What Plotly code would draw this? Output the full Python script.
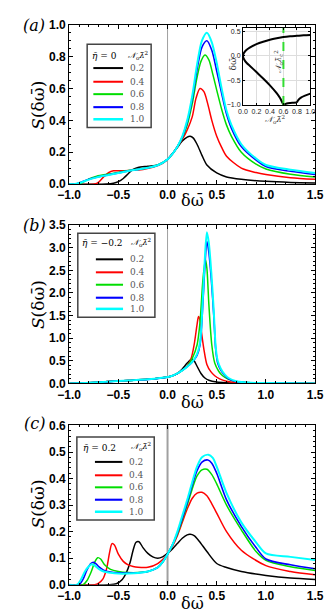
import plotly.graph_objects as go

W, H = 332, 616

# ---------------- data ----------------
COUPLINGS = ["0.2", "0.4", "0.6", "0.8", "1.0"]
COLORS = ["#000000", "#ff0000", "#00dd00", "#0000ff", "#00ffff"]
WIDTHS = [1.5, 1.5, 1.5, 1.6, 2.0]
ETA_LABELS = ["0", "−0.2", "0.2"]

# panel (a): eta = 0
A_X_02 = [-1.0, -0.62, -0.55, -0.5, -0.45, -0.4, -0.35, -0.3, -0.2, -0.1, -0.05, 0.0, 0.05, 0.1, 0.15, 0.2, 0.23, 0.26, 0.3, 0.35, 0.4, 0.5, 0.6, 0.75, 1.0, 1.25, 1.5]
A_Y_02 = [0.0, 0.0, 0.005, 0.015, 0.035, 0.065, 0.092, 0.104, 0.112, 0.12, 0.135, 0.155, 0.19, 0.23, 0.27, 0.295, 0.30, 0.29, 0.25, 0.18, 0.12, 0.07, 0.045, 0.03, 0.017, 0.01, 0.007]
A_X_04 = [-1.0, -0.74, -0.7, -0.65, -0.6, -0.55, -0.45, -0.35, -0.25, -0.15, -0.05, 0.0, 0.05, 0.1, 0.15, 0.2, 0.25, 0.29, 0.33, 0.37, 0.41, 0.45, 0.5, 0.55, 0.6, 0.75, 0.9, 1.0, 1.25, 1.5]
A_Y_04 = [0.0, 0.0, 0.012, 0.045, 0.072, 0.083, 0.084, 0.086, 0.092, 0.105, 0.13, 0.155, 0.19, 0.235, 0.28, 0.34, 0.42, 0.54, 0.60, 0.58, 0.5, 0.4, 0.3, 0.23, 0.175, 0.1, 0.072, 0.06, 0.04, 0.03]
A_X_06 = [-1.0, -0.9, -0.85, -0.8, -0.72, -0.6, -0.5, -0.4, -0.3, -0.2, -0.1, 0.0, 0.05, 0.1, 0.15, 0.2, 0.25, 0.3, 0.34, 0.38, 0.42, 0.46, 0.5, 0.55, 0.6, 0.65, 0.75, 0.9, 1.0, 1.25, 1.5]
A_Y_06 = [0.0, 0.0, 0.015, 0.032, 0.05, 0.063, 0.073, 0.085, 0.093, 0.103, 0.12, 0.155, 0.19, 0.235, 0.29, 0.37, 0.5, 0.67, 0.77, 0.81, 0.78, 0.69, 0.59, 0.47, 0.37, 0.3, 0.2, 0.125, 0.095, 0.062, 0.045]
A_X_08 = [-1.0, -0.94, -0.88, -0.8, -0.72, -0.6, -0.5, -0.4, -0.3, -0.2, -0.1, 0.0, 0.05, 0.1, 0.15, 0.2, 0.25, 0.3, 0.35, 0.4, 0.45, 0.5, 0.55, 0.6, 0.65, 0.75, 0.9, 1.0, 1.25, 1.5]
A_Y_08 = [0.0, 0.0, 0.012, 0.03, 0.043, 0.058, 0.07, 0.083, 0.092, 0.102, 0.118, 0.155, 0.19, 0.235, 0.295, 0.39, 0.53, 0.72, 0.86, 0.90, 0.84, 0.71, 0.57, 0.44, 0.35, 0.235, 0.15, 0.11, 0.08, 0.06]
A_X_10 = [-1.0, -0.94, -0.88, -0.8, -0.72, -0.6, -0.5, -0.4, -0.3, -0.2, -0.1, 0.0, 0.05, 0.1, 0.15, 0.2, 0.25, 0.3, 0.35, 0.4, 0.45, 0.5, 0.55, 0.6, 0.65, 0.75, 0.9, 1.0, 1.25, 1.5]
A_Y_10 = [0.0, 0.0, 0.01, 0.028, 0.042, 0.057, 0.069, 0.082, 0.092, 0.102, 0.118, 0.155, 0.19, 0.235, 0.3, 0.40, 0.55, 0.75, 0.9, 0.95, 0.89, 0.76, 0.6, 0.46, 0.37, 0.25, 0.16, 0.12, 0.09, 0.07]

# panel (b): eta = -0.2
B_X_02 = [-1.0, -0.8, -0.6, -0.4, -0.2, 0.0, 0.05, 0.1, 0.15, 0.2, 0.245, 0.27, 0.3, 0.34, 0.38, 0.42, 0.5, 0.6, 0.8, 1.0, 1.5]
B_Y_02 = [0.0, 0.015, 0.04, 0.065, 0.09, 0.14, 0.17, 0.22, 0.32, 0.45, 0.54, 0.5, 0.38, 0.22, 0.12, 0.07, 0.03, 0.015, 0.005, 0.003, 0.0]
B_X_04 = [-1.0, -0.8, -0.6, -0.4, -0.2, 0.0, 0.05, 0.1, 0.15, 0.2, 0.24, 0.27, 0.3, 0.315, 0.33, 0.35, 0.37, 0.4, 0.44, 0.48, 0.53, 0.6, 0.7, 0.85, 1.0, 1.5]
B_Y_04 = [0.0, 0.015, 0.04, 0.065, 0.09, 0.14, 0.17, 0.22, 0.29, 0.38, 0.55, 0.85, 1.3, 1.48, 1.4, 1.05, 0.75, 0.42, 0.26, 0.17, 0.1, 0.05, 0.02, 0.008, 0.004, 0.0]
B_X_06 = [-1.0, -0.8, -0.6, -0.4, -0.2, 0.0, 0.05, 0.1, 0.15, 0.2, 0.25, 0.3, 0.33, 0.36, 0.385, 0.4, 0.42, 0.45, 0.48, 0.52, 0.56, 0.62, 0.7, 0.85, 1.0, 1.5]
B_Y_06 = [0.0, 0.015, 0.04, 0.065, 0.09, 0.14, 0.17, 0.22, 0.29, 0.38, 0.55, 0.85, 1.35, 2.3, 2.74, 2.55, 1.75, 0.85, 0.45, 0.27, 0.17, 0.09, 0.04, 0.015, 0.008, 0.0]
B_X_08 = [-1.0, -0.8, -0.6, -0.4, -0.2, 0.0, 0.05, 0.1, 0.15, 0.2, 0.25, 0.3, 0.33, 0.36, 0.38, 0.4, 0.42, 0.445, 0.47, 0.49, 0.51, 0.54, 0.58, 0.62, 0.7, 0.85, 1.0, 1.5]
B_Y_08 = [0.0, 0.015, 0.04, 0.065, 0.09, 0.14, 0.17, 0.22, 0.29, 0.37, 0.47, 0.62, 0.85, 1.8, 2.6, 3.14, 2.9, 2.3, 1.5, 0.75, 0.45, 0.3, 0.18, 0.1, 0.04, 0.012, 0.006, 0.0]
B_X_10 = [-1.0, -0.8, -0.6, -0.4, -0.2, 0.0, 0.05, 0.1, 0.15, 0.2, 0.25, 0.3, 0.33, 0.36, 0.376, 0.4, 0.42, 0.445, 0.47, 0.49, 0.51, 0.54, 0.58, 0.62, 0.7, 0.85, 1.0, 1.5]
B_Y_10 = [0.0, 0.015, 0.04, 0.065, 0.09, 0.14, 0.17, 0.22, 0.29, 0.37, 0.47, 0.65, 0.9, 1.92, 2.63, 3.34, 3.1, 2.45, 1.6, 0.8, 0.5, 0.33, 0.2, 0.12, 0.05, 0.015, 0.007, 0.0]

# panel (c): eta = 0.2
C_X_02 = [-1.0, -0.6, -0.52, -0.46, -0.42, -0.38, -0.35, -0.32, -0.29, -0.25, -0.2, -0.15, -0.1, -0.05, 0.0, 0.05, 0.1, 0.15, 0.2, 0.23, 0.27, 0.32, 0.4, 0.5, 0.6, 0.75, 1.0, 1.25, 1.5]
C_Y_02 = [0.0, 0.0, 0.004, 0.02, 0.045, 0.085, 0.13, 0.16, 0.162, 0.14, 0.118, 0.105, 0.1, 0.105, 0.118, 0.135, 0.155, 0.175, 0.188, 0.19, 0.185, 0.165, 0.125, 0.08, 0.065, 0.05, 0.035, 0.025, 0.02]
C_X_04 = [-1.0, -0.74, -0.7, -0.66, -0.62, -0.59, -0.565, -0.54, -0.5, -0.45, -0.4, -0.35, -0.3, -0.2, -0.1, 0.0, 0.05, 0.1, 0.15, 0.2, 0.25, 0.3, 0.35, 0.4, 0.45, 0.5, 0.6, 0.75, 1.0, 1.25, 1.5]
C_Y_04 = [0.0, 0.0, 0.006, 0.02, 0.06, 0.12, 0.155, 0.15, 0.115, 0.088, 0.075, 0.069, 0.066, 0.066, 0.08, 0.115, 0.145, 0.185, 0.235, 0.285, 0.325, 0.345, 0.348, 0.335, 0.305, 0.27, 0.2, 0.13, 0.072, 0.05, 0.038]
C_X_06 = [-1.0, -0.86, -0.82, -0.78, -0.74, -0.71, -0.68, -0.64, -0.58, -0.5, -0.4, -0.3, -0.2, -0.1, -0.05, 0.0, 0.05, 0.1, 0.15, 0.2, 0.25, 0.3, 0.35, 0.4, 0.45, 0.5, 0.6, 0.75, 0.9, 1.0, 1.25, 1.5]
C_Y_06 = [0.0, 0.0, 0.015, 0.045, 0.085, 0.102, 0.097, 0.075, 0.058, 0.05, 0.046, 0.046, 0.05, 0.065, 0.085, 0.115, 0.15, 0.19, 0.245, 0.3, 0.36, 0.41, 0.433, 0.435, 0.415, 0.38, 0.3, 0.207, 0.125, 0.092, 0.068, 0.054]
C_X_08 = [-1.0, -0.9, -0.86, -0.82, -0.78, -0.755, -0.73, -0.7, -0.65, -0.58, -0.5, -0.4, -0.3, -0.2, -0.1, -0.05, 0.0, 0.05, 0.1, 0.15, 0.2, 0.25, 0.3, 0.35, 0.41, 0.45, 0.5, 0.6, 0.75, 0.9, 1.0, 1.25, 1.5]
C_Y_08 = [0.0, 0.0, 0.02, 0.055, 0.08, 0.085, 0.08, 0.068, 0.055, 0.048, 0.045, 0.044, 0.045, 0.05, 0.065, 0.085, 0.115, 0.15, 0.195, 0.25, 0.31, 0.375, 0.43, 0.462, 0.47, 0.458, 0.42, 0.32, 0.22, 0.14, 0.097, 0.075, 0.06]
C_X_10 = [-1.0, -0.92, -0.88, -0.84, -0.8, -0.77, -0.74, -0.7, -0.65, -0.58, -0.5, -0.4, -0.3, -0.2, -0.1, -0.05, 0.0, 0.05, 0.1, 0.15, 0.2, 0.25, 0.3, 0.35, 0.415, 0.46, 0.5, 0.6, 0.75, 0.9, 1.0, 1.25, 1.5]
C_Y_10 = [0.0, 0.0, 0.02, 0.05, 0.07, 0.077, 0.072, 0.06, 0.05, 0.045, 0.042, 0.042, 0.044, 0.05, 0.065, 0.085, 0.115, 0.15, 0.2, 0.26, 0.32, 0.385, 0.445, 0.48, 0.49, 0.478, 0.445, 0.345, 0.235, 0.16, 0.118, 0.105, 0.093]

# inset: branches of delta omega vs coupling
INSET_UP_X = [0.0, 0.01, 0.03, 0.06, 0.1, 0.2, 0.3, 0.4, 0.5, 0.6, 0.7, 0.8, 0.9, 1.0]
INSET_UP_Y = [0.0, 0.05, 0.09, 0.13, 0.17, 0.24, 0.29, 0.33, 0.36, 0.385, 0.40, 0.41, 0.42, 0.425]
INSET_LO_X = [0.0, 0.01, 0.03, 0.06, 0.1, 0.2, 0.3, 0.4, 0.5, 0.55, 0.6]
INSET_LO_Y = [0.0, -0.05, -0.1, -0.15, -0.2, -0.33, -0.46, -0.6, -0.76, -0.86, -1.0]
INSET_BOT_X = [0.6, 0.65, 0.7, 0.75, 0.8]
INSET_BOT_Y = [-0.995, -0.97, -0.96, -0.955, -0.95]
INSET_R_X = [0.8, 0.82, 0.86, 0.92, 1.0]
INSET_R_Y = [-0.95, -0.9, -0.85, -0.81, -0.77]
CRITICAL_COUPLING = 0.6

PANEL_DATA = [
    [(A_X_02, A_Y_02), (A_X_04, A_Y_04), (A_X_06, A_Y_06), (A_X_08, A_Y_08), (A_X_10, A_Y_10)],
    [(B_X_02, B_Y_02), (B_X_04, B_Y_04), (B_X_06, B_Y_06), (B_X_08, B_Y_08), (B_X_10, B_Y_10)],
    [(C_X_02, C_Y_02), (C_X_04, C_Y_04), (C_X_06, C_Y_06), (C_X_08, C_Y_08), (C_X_10, C_Y_10)],
]

# ---------------- layout helpers ----------------
def fx(p):
    return p / W


def fy(p):
    return 1 - p / H


SERIF = "DejaVu Serif"
SANS = "Liberation Sans"
OMEGA = "δω\u0304"
NLAM = "<i>𝒩</i><sub>o</sub><i>λ\u0304</i><sup>2</sup>"

PANELS = [
    dict(top=10, bottom=173, yrange=[0, 1.0], dtick=0.2, minor=0.05, label="(a)", label_y=11,
         xtitle_y=190, ytitle_y=92, zero_w=1.0,
         box=(71.7, 30, 140, 115), header_y=42, eta_x=75, rows=[54.3, 68.3, 81, 94.3, 106.7],
         sx=(78.3, 110)),
    dict(top=215, bottom=377, yrange=[0, 3.5], dtick=0.5, minor=0.1, label="(b)", label_y=215,
         xtitle_y=396, ytitle_y=296, zero_w=1.0,
         box=(61.7, 223.3, 144, 309.3), header_y=233.5, eta_x=64, rows=[250, 263.3, 276, 289.3, 300.7],
         sx=(81, 110)),
    dict(top=420, bottom=583, yrange=[0, 0.6], dtick=0.1, minor=0.02, label="(c)", label_y=418,
         xtitle_y=602, ytitle_y=500, zero_w=2.0,
         box=(60.7, 431.7, 143.3, 516.7), header_y=443, eta_x=65, rows=[457.3, 471, 483.3, 496, 508.3],
         sx=(80, 109.3)),
]

X_LEFT, X_RIGHT = 52.5, 315


def note(text, x, y, size, color="black", angle=0, xanchor="center", family=SERIF):
    return dict(text=text, x=fx(x), y=fy(y), xref="paper", yref="paper", showarrow=False,
                xanchor=xanchor, yanchor="middle", textangle=angle,
                font=dict(family=family, size=size, color=color))


fig = go.Figure()
layout = dict(
    width=W, height=H, margin=dict(l=0, r=0, t=0, b=0), autosize=False,
    paper_bgcolor="white", plot_bgcolor="white", showlegend=False,
)
annotations = []
shapes = []

for i, panel in enumerate(PANELS):
    n = i + 1
    xa = "xaxis" if n == 1 else f"xaxis{n}"
    ya = "yaxis" if n == 1 else f"yaxis{n}"
    xr = "x" if n == 1 else f"x{n}"
    yr = "y" if n == 1 else f"y{n}"
    layout[xa] = dict(
        domain=[fx(X_LEFT), fx(X_RIGHT)], range=[-1.0, 1.5], anchor=yr,
        tickmode="linear", tick0=-1.0, dtick=0.5, tickformat=".1f",
        ticks="inside", ticklen=4, tickwidth=1, tickcolor="black",
        minor=dict(ticks="inside", ticklen=2, dtick=0.1, tick0=-1.0, tickcolor="black"),
        showline=True, linecolor="black", linewidth=1, mirror="allticks",
        showgrid=False, zeroline=False,
        tickfont=dict(family=SANS, size=12, color="black", weight="bold"),
    )
    layout[ya] = dict(
        domain=[fy(panel["bottom"]), fy(panel["top"])], range=panel["yrange"], anchor=xr,
        tickmode="linear", tick0=0, dtick=panel["dtick"], tickformat=".1f",
        ticks="inside", ticklen=4, tickwidth=1, tickcolor="black",
        minor=dict(ticks="inside", ticklen=2, dtick=panel["minor"], tick0=0, tickcolor="black"),
        showline=True, linecolor="black", linewidth=1, mirror="allticks",
        showgrid=False, zeroline=False,
        tickfont=dict(family=SANS, size=12, color="black", weight="bold"),
    )
    shapes.append(dict(type="line", xref=xr, yref=f"{yr} domain", x0=0, x1=0, y0=0, y1=1,
                       line=dict(color="#a0a0a0", width=panel["zero_w"]), layer="below"))
    for (xs, ys), color, w in zip(PANEL_DATA[i], COLORS, WIDTHS):
        fig.add_trace(go.Scatter(x=xs, y=ys, mode="lines", xaxis=xr, yaxis=yr,
                                 line=dict(color=color, width=w, shape="spline", smoothing=0.8),
                                 hoverinfo="skip"))
    # axis titles and panel label
    annotations.append(note(OMEGA, (X_LEFT + X_RIGHT) / 2, panel["xtitle_y"], 16))
    annotations.append(note(f"<i>S</i>({OMEGA})", 19, panel["ytitle_y"], 17, angle=-90))
    annotations.append(note(f"<i>{panel['label']}</i>", 15, panel["label_y"], 16))
    # legend box
    bx0, by0, bx1, by1 = panel["box"]
    shapes.append(dict(type="rect", xref="paper", yref="paper", x0=fx(bx0), x1=fx(bx1), y0=fy(by1), y1=fy(by0),
                       line=dict(color="#444444", width=1.5), fillcolor="white"))
    annotations.append(note(f"<i>η\u0304</i> = {ETA_LABELS[i]}", panel["eta_x"], panel["header_y"], 9,
                            xanchor="left"))
    annotations.append(note(NLAM, bx1 - 1.5, panel["header_y"] - 1, 8, xanchor="right"))
    sx0, sx1 = panel["sx"]
    for row_y, color, w, lab in zip(panel["rows"], COLORS, WIDTHS, COUPLINGS):
        shapes.append(dict(type="line", xref="paper", yref="paper", x0=fx(sx0), x1=fx(sx1),
                           y0=fy(row_y), y1=fy(row_y), line=dict(color=color, width=w + 0.5)))
        annotations.append(note(lab, sx1 + 15, row_y, 9, color="#555555"))

# ---------------- inset ----------------
layout["xaxis4"] = dict(
    domain=[fx(238), fx(310)], range=[0, 1.0], anchor="y4",
    tickmode="linear", tick0=0, dtick=0.2, tickformat=".1f", tickangle=0,
    ticks="inside", ticklen=2, tickcolor="black",
    showline=True, linecolor="black", linewidth=1, mirror="allticks",
    showgrid=True, gridcolor="#dddddd", gridwidth=1, zeroline=False,
    tickfont=dict(family=SANS, size=7, color="#222222"),
)
layout["yaxis4"] = dict(
    domain=[fy(92), fy(13.3)], range=[-1.0, 0.57], anchor="x4",
    tickmode="array", tickvals=[-1.0, -0.5, 0.0, 0.5], tickformat=".1f",
    ticks="inside", ticklen=2, tickcolor="black",
    showline=True, linecolor="black", linewidth=1, mirror="allticks",
    showgrid=True, gridcolor="#dddddd", gridwidth=1, zeroline=False,
    tickfont=dict(family=SANS, size=7, color="#222222"),
)
for xs, ys in [(INSET_UP_X, INSET_UP_Y), (INSET_LO_X, INSET_LO_Y), (INSET_BOT_X, INSET_BOT_Y), (INSET_R_X, INSET_R_Y)]:
    fig.add_trace(go.Scatter(x=xs, y=ys, mode="lines", xaxis="x4", yaxis="y4",
                             line=dict(color="black", width=2, shape="spline", smoothing=0.8),
                             hoverinfo="skip"))
fig.add_trace(go.Scatter(x=[CRITICAL_COUPLING, CRITICAL_COUPLING], y=[-1.0, 0.57], mode="lines",
                         xaxis="x4", yaxis="y4", line=dict(color="#33dd33", width=2, dash="dash"),
                         hoverinfo="skip"))
annotations.append(note("<i>𝒩</i><sub>o</sub><i>λ\u0304</i><sub>c</sub><sup>2</sup>", 276, 48, 8,
                        color="#333333", angle=-90))
annotations.append(note(OMEGA, 227, 50, 9, color="#333333", angle=-90))
annotations.append(note(NLAM, 272, 107, 8, color="#333333"))

layout["annotations"] = annotations
layout["shapes"] = shapes
fig.update_layout(**layout)
fig.write_html("out.html")
